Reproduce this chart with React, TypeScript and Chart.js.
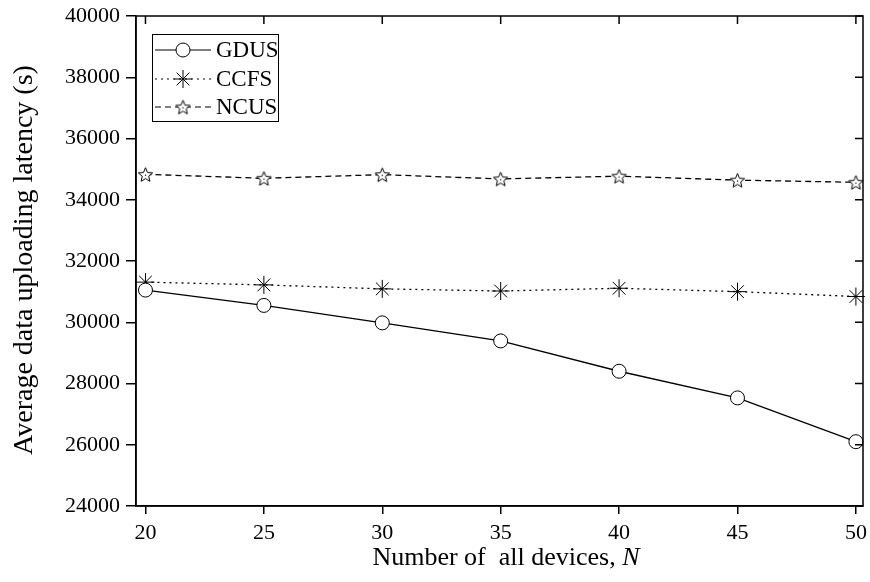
import React, { useEffect, useRef } from 'react';
import { Chart, registerables } from 'chart.js';
import { drawPoint } from 'chart.js/helpers';
Chart.register(...registerables);

const devices = [20, 25, 30, 35, 40, 45, 50];
const gdus = [31050, 30550, 29980, 29390, 28400, 27530, 26100];
const ccfs = [31310, 31220, 31090, 31020, 31110, 31000, 30840];
const ncus = [34830, 34700, 34820, 34680, 34770, 34640, 34570];
const yTicks = [24000, 26000, 28000, 30000, 32000, 34000, 36000, 38000, 40000];
const seriesNames = ['GDUS', 'CCFS', 'NCUS'];
const xTitle = 'Number of  all devices, ';
const xTitleVar = 'N';
const yTitle = 'Average data uploading latency (s)';

const FONT = '"Liberation Serif", "Times New Roman", serif';

function makeStar(size: number): HTMLCanvasElement {
  const c = document.createElement('canvas');
  c.width = size;
  c.height = size;
  const ctx = c.getContext('2d')!;
  const cx = size / 2;
  const cy = size / 2 + 0.8;
  const R = size / 2 - 1;
  const r = R * 0.45;
  ctx.beginPath();
  for (let i = 0; i < 10; i++) {
    const a = -Math.PI / 2 + (i * Math.PI) / 5;
    const rad = i % 2 ? r : R;
    ctx.lineTo(cx + rad * Math.cos(a), cy + rad * Math.sin(a));
  }
  ctx.closePath();
  ctx.fillStyle = '#fff';
  ctx.fill();
  ctx.strokeStyle = '#000';
  ctx.lineWidth = 1;
  ctx.stroke();
  ctx.fillStyle = '#000';
  ctx.fillRect(cx - 0.6, cy - 0.6, 1.2, 1.2);
  return c;
}

export default function App() {
  const ref = useRef<HTMLCanvasElement>(null);
  useEffect(() => {
    const star = makeStar(17);
    const styles = [
      { pointStyle: 'circle' as any, radius: 7, dash: [] as number[] },
      { pointStyle: 'star' as any, radius: 9, dash: [2, 4] },
      { pointStyle: star as any, radius: 8, dash: [6, 4] },
    ];
    const values = [gdus, ccfs, ncus];

    const frame = {
      id: 'frame',
      afterDraw(chart: any) {
        const ctx = chart.ctx;
        const { left, right, top, bottom } = chart.chartArea;
        const x = chart.scales.x;
        const y = chart.scales.y;
        ctx.save();
        ctx.strokeStyle = '#000';
        ctx.lineWidth = 1.5;
        ctx.setLineDash([]);
        ctx.strokeRect(left, top, right - left, bottom - top);
        ctx.beginPath();
        devices.forEach((v) => {
          const px = x.getPixelForValue(v);
          ctx.moveTo(px, top);
          ctx.lineTo(px, top + 8);
        });
        yTicks.forEach((v) => {
          const py = y.getPixelForValue(v);
          ctx.moveTo(right, py);
          ctx.lineTo(right - 8, py);
        });
        ctx.stroke();

        // axis titles
        ctx.fillStyle = '#000';
        ctx.textBaseline = 'alphabetic';
        ctx.textAlign = 'left';
        ctx.font = `26px ${FONT}`;
        const w1 = ctx.measureText(xTitle).width;
        ctx.font = `italic 26px ${FONT}`;
        const w2 = ctx.measureText(xTitleVar).width;
        const sx = 506 - (w1 + w2) / 2;
        ctx.font = `26px ${FONT}`;
        ctx.fillText(xTitle, sx, 565);
        ctx.font = `italic 26px ${FONT}`;
        ctx.fillText(xTitleVar, sx + w1, 565);

        ctx.save();
        ctx.translate(32, 260);
        ctx.rotate(-Math.PI / 2);
        ctx.font = `28px ${FONT}`;
        ctx.textAlign = 'center';
        ctx.fillText(yTitle, 0, 0);
        ctx.restore();

        // legend
        const bx = 152.5, by = 34.5, bw = 126, bh = 87;
        ctx.lineWidth = 1;
        ctx.fillStyle = '#fff';
        ctx.fillRect(bx, by, bw, bh);
        ctx.strokeStyle = '#000';
        ctx.strokeRect(bx, by, bw, bh);
        const rows = [50, 79, 107];
        ctx.font = `23px ${FONT}`;
        ctx.textBaseline = 'middle';
        ctx.textAlign = 'left';
        seriesNames.forEach((name, i) => {
          const yy = rows[i];
          ctx.strokeStyle = '#000';
          ctx.lineWidth = 1.2;
          ctx.setLineDash(styles[i].dash);
          ctx.beginPath();
          ctx.moveTo(155, yy);
          ctx.lineTo(211, yy);
          ctx.stroke();
          ctx.setLineDash([]);
          ctx.fillStyle = '#fff';
          ctx.strokeStyle = '#000';
          ctx.lineWidth = 1;
          drawPoint(ctx, { pointStyle: styles[i].pointStyle, radius: styles[i].radius, borderWidth: 1, rotation: 0 } as any, 183, yy);
          ctx.fillStyle = '#000';
          ctx.fillText(name, 216, yy + 1);
        });
        ctx.restore();
      },
    };

    const chart = new Chart(ref.current!, {
      type: 'line',
      data: {
        datasets: seriesNames.map((name, i) => ({
          label: name,
          data: devices.map((d, j) => ({ x: d, y: values[i][j] })),
          borderColor: '#000',
          borderWidth: 1.3,
          borderDash: styles[i].dash,
          pointStyle: styles[i].pointStyle,
          pointRadius: styles[i].radius,
          pointBackgroundColor: '#fff',
          pointBorderColor: '#000',
          pointBorderWidth: 1,
          fill: false,
          tension: 0,
          clip: false as any,
        })),
      },
      options: {
        responsive: false,
        animation: false,
        layout: { autoPadding: false, padding: { top: 16, right: 7, left: 0, bottom: 0 } },
        plugins: { legend: { display: false }, tooltip: { enabled: false } },
        scales: {
          x: {
            type: 'linear',
            min: 19.6,
            max: 50.3,
            afterBuildTicks: (s: any) => {
              s.ticks = devices.map((v) => ({ value: v }));
            },
            afterFit: (s: any) => {
              s.height = 76;
              s.paddingLeft = 0;
              s.paddingRight = 0;
            },
            grid: { drawOnChartArea: false, drawTicks: true, tickLength: 8, color: '#000', lineWidth: 1.5 },
            border: { display: true, color: '#000', width: 1.5 },
            ticks: { color: '#000', font: { family: FONT, size: 22 }, padding: 6, maxRotation: 0, callback: (v: any) => String(v) },
            title: { display: false },
          },
          y: {
            type: 'linear',
            min: 24000,
            max: 40000,
            afterBuildTicks: (s: any) => {
              s.ticks = yTicks.map((v) => ({ value: v }));
            },
            afterFit: (s: any) => {
              s.width = 136;
              s.paddingTop = 0;
              s.paddingBottom = 0;
            },
            grid: { drawOnChartArea: false, drawTicks: true, tickLength: 10, color: '#000', lineWidth: 1.5 },
            border: { display: true, color: '#000', width: 1.5 },
            ticks: { color: '#000', font: { family: FONT, size: 22 }, padding: 6, callback: (v: any) => String(v) },
            title: { display: false },
          },
        },
      },
      plugins: [frame],
    });
    return () => chart.destroy();
  }, []);

  return (
    <div style={{ position: 'fixed', left: 0, top: 0, width: 870, height: 582, background: '#fff' }}>
      <canvas ref={ref} width={870} height={582} style={{ display: 'block' }} />
    </div>
  );
}
